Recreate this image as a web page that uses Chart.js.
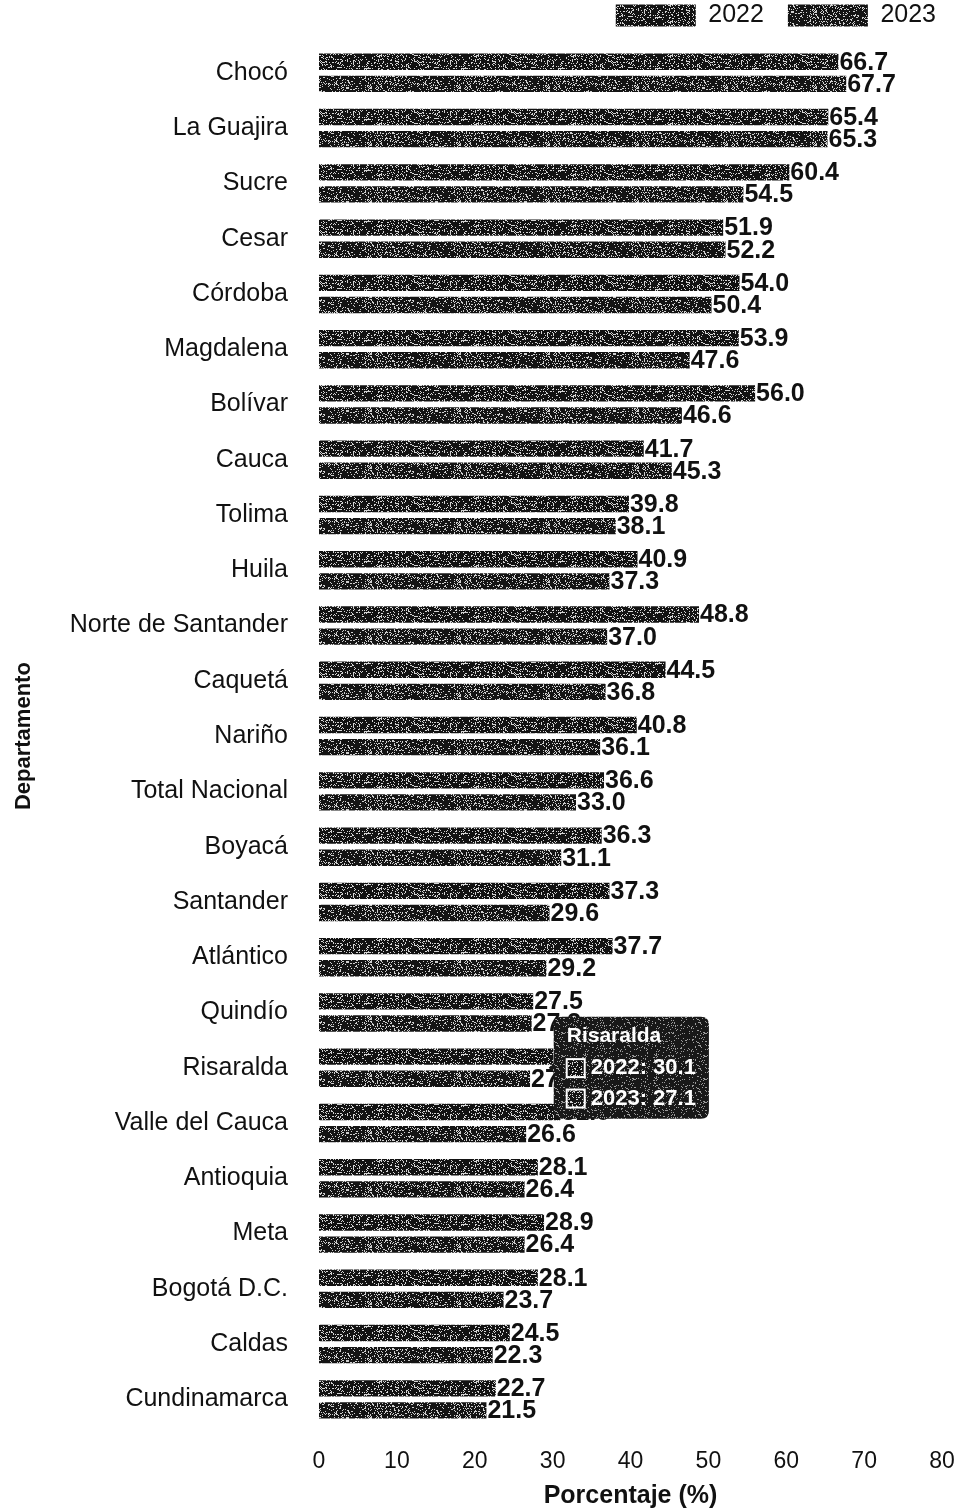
<!DOCTYPE html>
<html>
<head>
<meta charset="utf-8">
<script src="https://cdn.jsdelivr.net/npm/chart.js@4.4.1/dist/chart.umd.min.js"></script>
<style>
  html, body { margin: 0; padding: 0; background: #ffffff; }
  #wrap { width: 961px; height: 1509px; }
</style>
</head>
<body>
<div id="wrap"><canvas id="c" width="961" height="1509"></canvas></div>
<script>
const categories = ["Chocó", "La Guajira", "Sucre", "Cesar", "Córdoba", "Magdalena", "Bolívar", "Cauca", "Tolima", "Huila", "Norte de Santander", "Caquetá", "Nariño", "Total Nacional", "Boyacá", "Santander", "Atlántico", "Quindío", "Risaralda", "Valle del Cauca", "Antioquia", "Meta", "Bogotá D.C.", "Caldas", "Cundinamarca"];
const values2022 = [66.7, 65.4, 60.4, 51.9, 54.0, 53.9, 56.0, 41.7, 39.8, 40.9, 48.8, 44.5, 40.8, 36.6, 36.3, 37.3, 37.7, 27.5, 30.1, 31.0, 28.1, 28.9, 28.1, 24.5, 22.7];
const values2023 = [67.7, 65.3, 54.5, 52.2, 50.4, 47.6, 46.6, 45.3, 38.1, 37.3, 37.0, 36.8, 36.1, 33.0, 31.1, 29.6, 29.2, 27.3, 27.1, 26.6, 26.4, 26.4, 23.7, 22.3, 21.5];
const seriesLabels = ["2022", "2023"];
const xTicks = [0, 10, 20, 30, 40, 50, 60, 70, 80];
const hoveredIndex = 18;

function speckle(w, h, base, spot, density, seed) {
  const c = document.createElement('canvas');
  c.width = w; c.height = h;
  const g = c.getContext('2d');
  g.fillStyle = base; g.fillRect(0, 0, w, h);
  g.fillStyle = spot;
  let s = seed;
  for (let y = 0; y < h; y++) {
    for (let x = 0; x < w; x++) {
      s = (s * 1103515245 + 12345) & 0x7fffffff;
      if ((s >> 8) % 1000 < density * 1000) g.fillRect(x, y, 1, 1);
    }
  }
  return g.createPattern(c, 'repeat');
}
const pat2022 = speckle(97, 17, '#121212', '#d4d4d4', 0.2, 7);
const pat2023 = speckle(89, 19, '#141414', '#d0d0d0', 0.2, 13);
const patTip = speckle(71, 23, '#181818', '#9a9a9a', 0.12, 29);

const FONT = "'Liberation Sans', Arial, sans-serif";

const valueLabels = {
  id: 'valueLabels',
  afterDatasetsDraw(chart) {
    const ctx = chart.ctx;
    ctx.save();
    ctx.font = "bold 25px " + FONT;
    ctx.fillStyle = '#111';
    ctx.textAlign = 'left';
    ctx.textBaseline = 'middle';
    chart.data.datasets.forEach((ds, di) => {
      const meta = chart.getDatasetMeta(di);
      meta.data.forEach((bar, i) => {
        ctx.fillText(ds.data[i].toFixed(1), bar.x + 1, bar.y + 1);
      });
    });
    ctx.restore();
  }
};

const chart = new Chart(document.getElementById('c'), {
  type: 'bar',
  data: {
    labels: categories,
    datasets: [
      { label: seriesLabels[0], data: values2022, backgroundColor: pat2022, hoverBackgroundColor: pat2022, borderWidth: 0, categoryPercentage: 0.8, barPercentage: 0.74 },
      { label: seriesLabels[1], data: values2023, backgroundColor: pat2023, hoverBackgroundColor: pat2023, borderWidth: 0, categoryPercentage: 0.8, barPercentage: 0.74 }
    ]
  },
  options: {
    indexAxis: 'y',
    responsive: false,
    animation: false,
    events: [],
    layout: { padding: { top: -21, right: 1, bottom: 0, left: 0 } },
    interaction: { mode: 'index', axis: 'y', intersect: false },
    scales: {
      x: {
        type: 'linear',
        min: 0, max: 80,
        afterBuildTicks(scale) { scale.ticks = xTicks.map(v => ({ value: v })); },
        afterFit(scale) { scale.height = 82; scale.paddingRight = 19; },
        grid: { display: false, drawTicks: false },
        border: { display: false },
        ticks: { padding: 21, color: '#111', font: { family: FONT, size: 23 } },
        title: { display: true, text: 'Porcentaje (%)', color: '#111', padding: { top: 0, bottom: 0 }, font: { family: FONT, size: 25, weight: 'bold', lineHeight: 1 } }
      },
      y: {
        afterFit(scale) { scale.width = 319; scale.paddingTop = 0; scale.paddingBottom = 0; },
        grid: { display: false, drawTicks: false },
        border: { display: false },
        ticks: { padding: 31, color: '#111', autoSkip: false, font: { family: FONT, size: 25 } },
        title: { display: true, text: 'Departamento', color: '#111', padding: { top: 13, bottom: 0 }, font: { family: FONT, size: 22, weight: 'bold', lineHeight: 1 } }
      }
    },
    plugins: {
      title: { display: true, text: '', weight: 500, padding: 0, font: { size: 6, lineHeight: 1.2 } },
      legend: {
        position: 'top',
        align: 'end',
        labels: { boxWidth: 80, boxHeight: 22, padding: 24, color: '#111', font: { family: FONT, size: 25 } }
      },
      tooltip: {
        enabled: true,
        position: 'average',
        backgroundColor: patTip,
        titleColor: '#fff',
        bodyColor: '#fff',
        titleFont: { family: FONT, size: 21, weight: 'bold' },
        bodyFont: { family: FONT, size: 22, weight: 'bold' },
        titleMarginBottom: 6,
        bodySpacing: 4,
        padding: { top: 7, bottom: 7, left: 13, right: 13 },
        caretSize: 5,
        caretPadding: 7,
        cornerRadius: 8,
        boxWidth: 18,
        boxHeight: 18,
        boxPadding: 4,
        displayColors: true,
        callbacks: {
          labelColor(ctx) {
            return { borderColor: '#ffffff', backgroundColor: ctx.datasetIndex === 0 ? pat2022 : pat2023, borderWidth: 2, borderRadius: 0 };
          }
        }
      }
    }
  },
  plugins: [valueLabels]
});

chart.tooltip.setActiveElements(
  [{ datasetIndex: 0, index: hoveredIndex }, { datasetIndex: 1, index: hoveredIndex }],
  { x: 540, y: 1066 }
);
chart.update();
</script>
</body>
</html>
